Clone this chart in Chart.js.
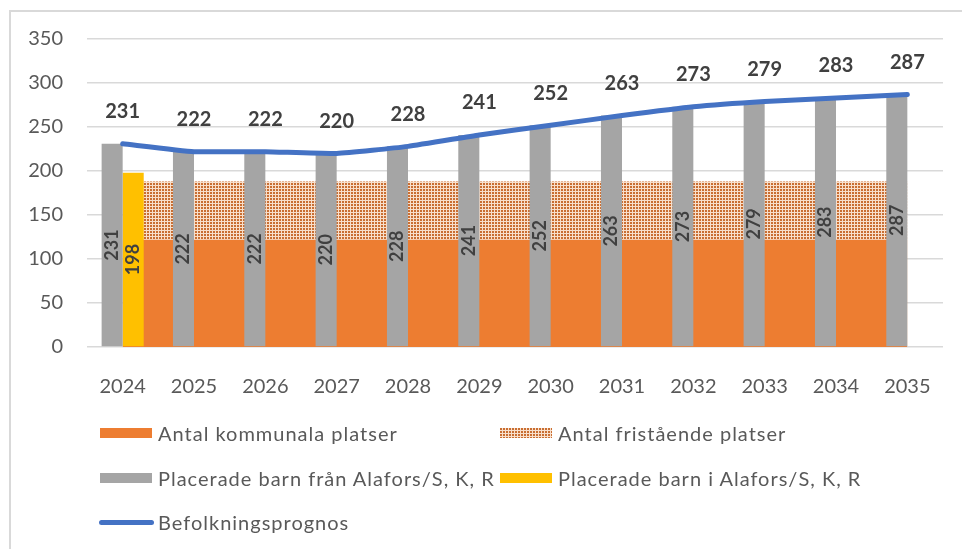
<!DOCTYPE html>
<html>
<head>
<meta charset="utf-8">
<script src="https://cdn.jsdelivr.net/npm/chart.js@4.4.1/dist/chart.umd.min.js"></script>
<style>
	html, body { margin: 0; padding: 0; background: #fff; }
	#wrap { position: relative; width: 962px; height: 549px; overflow: hidden; }
	#ram { position: absolute; left: 9px; top: 10px; width: 1000px; height: 600px;
		border-top: 2px solid #d9d9d9; border-left: 2px solid #d9d9d9; }
	#graf { position: absolute; left: 0; top: 0; }
	.leg { position: absolute; font-family: Lato, sans-serif; font-size: 20px; letter-spacing: 1px;
		color: #595959; line-height: 22px; white-space: nowrap; }
	.leg span.ruta { position: absolute; left: -58px; top: 6px; width: 52px; height: 10px; }
	.leg span.linje { position: absolute; left: -59px; top: 9px; width: 55px; height: 5px; border-radius: 3px; }
</style>
</head>
<body>
<div id="wrap">
	<div id="ram"></div>
	<canvas id="graf" width="962" height="549"></canvas>
	<div id="legend"></div>
</div>
<script>
	// data lasta ur diagrammet
	var ar = ['2024', '2025', '2026', '2027', '2028', '2029', '2030', '2031', '2032', '2033', '2034', '2035'];
	var kommunala = [122, 122, 122, 122, 122, 122, 122, 122, 122, 122, 122, 122];
	var fristaende = [66, 66, 66, 66, 66, 66, 66, 66, 66, 66, 66, 66];
	var placeradeFran = [231, 222, 222, 220, 228, 241, 252, 263, 273, 279, 283, 287];
	var placeradeI = [198, null, null, null, null, null, null, null, null, null, null, null];
	var befolkning = [231, 222, 222, 220, 228, 241, 252, 263, 273, 279, 283, 287];
	var yTicks = [0, 50, 100, 150, 200, 250, 300, 350];

	var orange = '#ed7d31';
	var gra = '#a5a5a5';
	var gul = '#ffc000';
	var bla = '#4472c4';

	// prickigt monster for fristaende platser
	var _monsterCanvas = document.createElement('canvas');
	_monsterCanvas.width = 3;
	_monsterCanvas.height = 3;
	var _mctx = _monsterCanvas.getContext('2d');
	_mctx.fillStyle = '#f8dfcb';
	_mctx.fillRect(0, 0, 3, 3);
	_mctx.fillStyle = '#c96e32';
	_mctx.fillRect(0, 0, 2, 2);
	var monster = document.getElementById('graf').getContext('2d').createPattern(_monsterCanvas, 'repeat');

	var etiketter = {
		id: 'etiketter',
		afterDatasetsDraw: function(chart) {
			var ctx = chart.ctx;
			ctx.save();
			ctx.fillStyle = '#404040';
			ctx.textAlign = 'center';
			ctx.textBaseline = 'middle';

			[2, 3].forEach(function(i) {
				chart.getDatasetMeta(i).data.forEach(function(stapel, j) {
					var v = chart.data.datasets[i].data[j];
					if (v == null) return;
					ctx.save();
					ctx.translate(stapel.x, (stapel.y + stapel.base) / 2);
					ctx.rotate(-Math.PI / 2);
					ctx.font = 'bold 18px Lato';
					ctx.fillText(v, 0, 0);
					ctx.restore();
				});
			});

			ctx.font = 'bold 20px Lato';
			chart.getDatasetMeta(4).data.forEach(function(punkt, j) {
				ctx.fillText(befolkning[j], punkt.x, punkt.y - 32);
			});
			ctx.restore();
		}
	};

	var graf = new Chart(document.getElementById('graf'), {
		data: {
			labels: ar,
			datasets: [
				{ type: 'line', label: 'Antal kommunala platser', data: kommunala, stack: 'platser',
					fill: 'origin', backgroundColor: orange, borderWidth: 0, pointRadius: 0, tension: 0, order: 3 },
				{ type: 'line', label: 'Antal fristående platser', data: fristaende, stack: 'platser',
					fill: '-1', backgroundColor: monster, borderWidth: 0, pointRadius: 0, tension: 0, order: 3 },
				{ type: 'bar', label: 'Placerade barn från Alafors/S, K, R', data: placeradeFran, stack: 'fran',
					backgroundColor: gra, order: 2 },
				{ type: 'bar', label: 'Placerade barn i Alafors/S, K, R', data: placeradeI, stack: 'i',
					backgroundColor: gul, order: 2 },
				{ type: 'line', label: 'Befolkningsprognos', data: befolkning, stack: 'prognos',
					borderColor: bla, borderWidth: 5, borderCapStyle: 'round', fill: false,
					pointRadius: 0, tension: 0.15, order: 1 }
			]
		},
		options: {
			responsive: false,
			animation: false,
			datasets: {
				bar: { categoryPercentage: 0.59, barPercentage: 1 }
			},
			layout: { padding: { left: 0, right: 19, top: 39, bottom: 152 } },
			plugins: {
				legend: { display: false },
				tooltip: { enabled: false }
			},
			scales: {
				x: {
					offset: true,
					grid: { display: false },
					border: { display: false },
					ticks: { font: { family: 'Lato', size: 20 }, color: '#595959', padding: 20 },
					afterFit: function(scale) { scale.height = 50; }
				},
				y: {
					stacked: true,
					min: 0,
					max: 350,
					afterBuildTicks: function(scale) {
						scale.ticks = yTicks.map(function(v) { return { value: v }; });
					},
					grid: { color: '#d9d9d9', lineWidth: 1.5, drawTicks: false },
					border: { display: false },
					ticks: { font: { family: 'Lato', size: 20 }, color: '#595959', padding: 24 },
					afterFit: function(scale) { scale.width = 87; }
				}
			}
		},
		plugins: [etiketter]
	});

	// legenden byggs i html med tva kolumner som i originalet
	var _platser = [
		{ ds: 0, left: 158, top: 422 },
		{ ds: 1, left: 558, top: 422 },
		{ ds: 2, left: 158, top: 467 },
		{ ds: 3, left: 558, top: 467 },
		{ ds: 4, left: 158, top: 511 }
	];
	var _legend = document.getElementById('legend');
	_platser.forEach(function(p) {
		var ds = graf.data.datasets[p.ds];
		var div = document.createElement('div');
		div.className = 'leg';
		div.style.left = p.left + 'px';
		div.style.top = p.top + 'px';
		var ruta = document.createElement('span');
		if (ds.type == 'line' && ds.fill === false) {
			ruta.className = 'linje';
			ruta.style.background = ds.borderColor;
		} else {
			ruta.className = 'ruta';
			if (ds.backgroundColor === monster)
				ruta.style.backgroundImage = 'url(' + _monsterCanvas.toDataURL() + ')';
			else
				ruta.style.background = ds.backgroundColor;
		}
		div.appendChild(ruta);
		div.appendChild(document.createTextNode(ds.label));
		_legend.appendChild(div);
	});
</script>
</body>
</html>
